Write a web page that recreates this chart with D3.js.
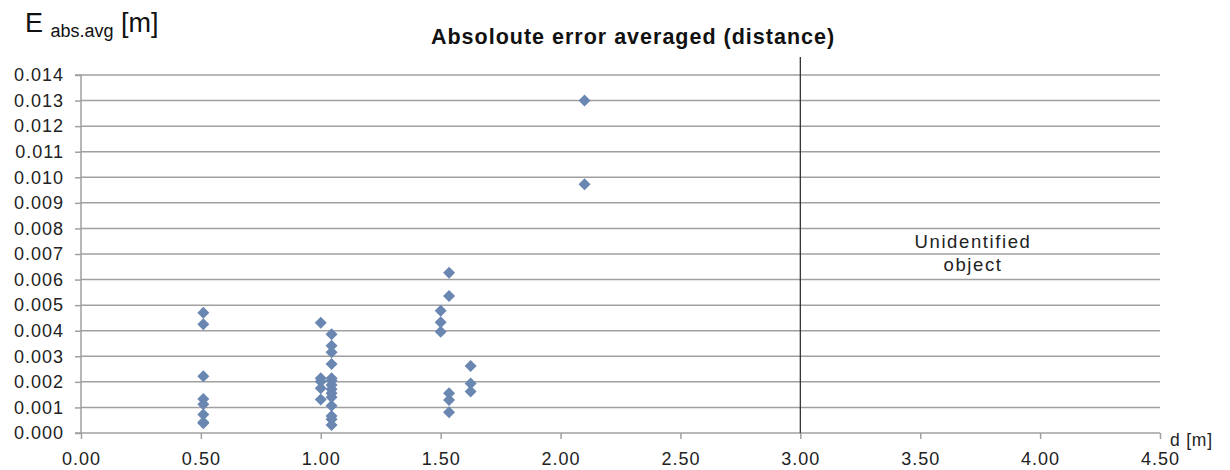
<!DOCTYPE html>
<html><head><meta charset="utf-8">
<script src="https://cdn.jsdelivr.net/npm/d3@7"></script>
<style>body{margin:0;background:#fff;font-family:"Liberation Sans",Arial,sans-serif;}</style>
</head><body><svg id="c" width="1230" height="470"></svg>
<script>
const xTicks = [0,0.5,1,1.5,2,2.5,3,3.5,4,4.5];
const yTicks = [0,0.001,0.002,0.003,0.004,0.005,0.006,0.007,0.008,0.009,0.010,0.011,0.012,0.013,0.014];
const distance = [
 0.51,0.51,0.51,0.51,0.51,0.51,0.51,0.51,
 1.00,1.00,1.00,1.00,1.00,
 1.045,1.045,1.045,1.045,1.045,1.045,1.045,1.045,1.045,1.045,1.045,1.045,1.045,1.045,
 1.50,1.50,1.50,
 1.535,1.535,1.535,1.535,1.535,
 1.625,1.625,1.625,
 2.10,2.10];
const error = [
 0.00470,0.00425,0.00222,0.00133,0.00112,0.00072,0.00042,0.00038,
 0.00431,0.00214,0.00201,0.00175,0.00131,
 0.00386,0.00341,0.00316,0.00270,0.00214,0.00205,0.00188,0.00171,0.00155,0.00140,0.00107,0.00066,0.00054,0.00031,
 0.00478,0.00433,0.00396,
 0.00627,0.00536,0.00155,0.00129,0.00081,
 0.00262,0.00194,0.00162,
 0.01300,0.00973];
const boundary = 3.0;
const noteLines = ["Unidentified","object"];

const FONT = "Liberation Sans, Arial, sans-serif";
const svg = d3.select("#c");
const x = d3.scaleLinear().domain([0,4.5]).range([81,1160]);
const y = d3.scaleLinear().domain([0,0.014]).range([433,75]);

// gridlines
svg.append("g").selectAll("line").data(yTicks.slice(1)).join("line")
 .attr("x1",x(0)).attr("x2",x(4.5)).attr("y1",d=>y(d)).attr("y2",d=>y(d))
 .attr("stroke","#a0a0a0").attr("stroke-width",1.5);

// y axis
const ya = svg.append("g").attr("transform",`translate(${x(0)},0)`)
 .call(d3.axisLeft(y).tickValues(yTicks).tickFormat(d3.format(".3f")).tickSize(6).tickPadding(11));
ya.select(".domain").attr("stroke","#a0a0a0").attr("stroke-width",1.5).attr("d",`M-6,${y(0.014)}H0V${y(0)}H-6`);
ya.selectAll(".tick line").attr("stroke","#a0a0a0").attr("stroke-width",1.5);
ya.selectAll(".tick text").attr("font-size",18).attr("letter-spacing",1).attr("fill","#222").attr("font-family",FONT);

// x axis
const xa = svg.append("g").attr("transform",`translate(0,${y(0)})`)
 .call(d3.axisBottom(x).tickValues(xTicks).tickFormat(d3.format(".2f")).tickSize(6).tickPadding(13));
xa.select(".domain").attr("stroke","#a0a0a0").attr("stroke-width",1.5).attr("d",`M${x(0)},0H${x(4.5)}`);
xa.selectAll(".tick line").attr("stroke","#a0a0a0").attr("stroke-width",1.5);
xa.selectAll(".tick text").attr("font-size",18).attr("letter-spacing",1).attr("fill","#222").attr("font-family",FONT);

// boundary line
svg.append("line").attr("x1",x(boundary)).attr("x2",x(boundary)).attr("y1",57).attr("y2",y(0))
 .attr("stroke","#333").attr("stroke-width",1.3);

// note
svg.append("text").attr("x",972).attr("y",248).attr("text-anchor","middle")
 .attr("font-size",18.5).attr("letter-spacing",1.6).attr("fill","#222").attr("font-family",FONT)
 .selectAll("tspan").data(noteLines).join("tspan").attr("x",973).attr("dy",(d,i)=>i?23:0).text(d=>d);

// points
svg.append("g").selectAll("path").data(distance.map((d,i)=>[d,error[i]])).join("path")
 .attr("transform",d=>`translate(${x(d[0])},${y(d[1])})`)
 .attr("d","M0,-6L6,0L0,6L-6,0Z").attr("fill","#6a87b2");

// title
svg.append("text").attr("x",633).attr("y",44).attr("text-anchor","middle")
 .attr("font-size",21.5).attr("letter-spacing",1).attr("font-weight","bold").attr("fill","#111").attr("font-family",FONT)
 .text("Absoloute error averaged (distance)");

// y label
const yl = svg.append("text").attr("x",25).attr("y",32).attr("fill","#111").attr("font-size",27).attr("font-family",FONT);
yl.append("tspan").text("E ");
yl.append("tspan").attr("font-size",18).attr("dy",5).text("abs.avg");
yl.append("tspan").attr("dy",-5).text(" [m]");

// x label
svg.append("text").attr("x",1170).attr("y",446).attr("font-size",17.5).attr("letter-spacing",0.8).attr("fill","#222").attr("font-family",FONT).text("d [m]");
</script></body></html>
